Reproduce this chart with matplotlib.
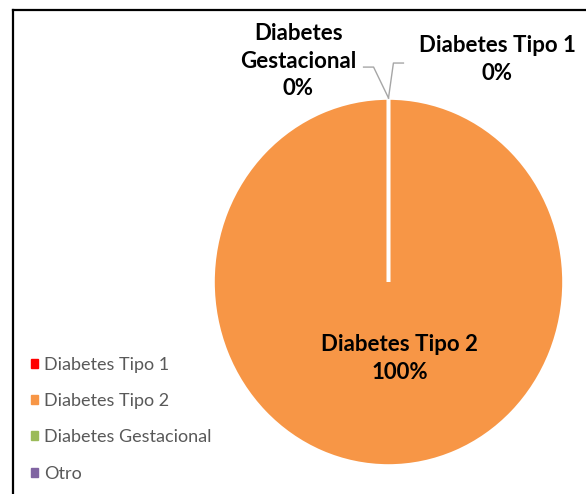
import matplotlib
matplotlib.use("Agg")
import matplotlib.pyplot as plt
from matplotlib.lines import Line2D
import numpy as np

# datos
categorias = ["Diabetes Tipo 1", "Diabetes Tipo 2", "Diabetes Gestacional", "Otro"]
valores = [0, 100, 0, 0]
colores = ["#FF0000", "#F79646", "#9BBB59", "#8064A2"]

plt.rcParams['font.family'] = ['Lato', 'DejaVu Sans']

W, H = 586, 494
fig = plt.figure(figsize=(W / 100, H / 100), dpi=100)

# pie area (slightly taller than wide, like the original)
ax = fig.add_axes([213 / W, (H - 466) / H, 351 / W, 368 / H])
wedges, _ = ax.pie(valores, colors=colores, startangle=90, counterclock=False,
                   wedgeprops=dict(edgecolor="white", linewidth=2.6))
ax.set_aspect('auto')
ax.set_xlim(-1, 1)
ax.set_ylim(-1, 1)
ax.axis('off')

total = sum(valores)
pct = [f"{round(v / total * 100)}%" for v in valores]

def borde(w):
    # point on the rim at the middle of the wedge
    ang = np.deg2rad((w.theta1 + w.theta2) / 2)
    return np.cos(ang), np.sin(ang)

lbl = dict(ha="center", va="center", fontsize=16, fontweight="bold",
           color="black", linespacing=1.38)
gris = "#A6A6A6"

# Diabetes Tipo 1 (0%)
x0, y0 = borde(wedges[0])
ax.plot([x0, x0 + 0.028, x0 + 0.085], [y0, y0 + 0.19, y0 + 0.19],
        color=gris, lw=1, clip_on=False)
ax.text(0.62, 1.21, f"{categorias[0]}\n{pct[0]}", clip_on=False, **lbl)

# Diabetes Gestacional (0%)
x2, y2 = borde(wedges[2])
ax.plot([x2, x2 - 0.085, x2 - 0.142], [y2, y2 + 0.168, y2 + 0.168],
        color=gris, lw=1, clip_on=False)
ax.text(-0.513, 1.20, "Diabetes\nGestacional\n" + pct[2], clip_on=False, **lbl)

# Diabetes Tipo 2 (100%)
ax.text(0.063, -0.415, f"{categorias[1]}\n{pct[1]}", **lbl)

# leyenda
handles = [plt.Rectangle((0, 0), 1, 1, color=c) for c in colores]
leg = fig.legend(handles, categorias, loc="lower left",
                 bbox_to_anchor=(24 / W, 5 / H), frameon=False,
                 fontsize=13, handlelength=0.4, handleheight=0.4,
                 handletextpad=0.3, labelspacing=1.13, borderaxespad=0)
for t in leg.get_texts():
    t.set_color("#595959")

# marco (only top and left visible)
fig.add_artist(Line2D([12.5 / W, 1], [1 - 10 / H, 1 - 10 / H], color="black", lw=1.6))
fig.add_artist(Line2D([12.5 / W, 12.5 / W], [0, 1 - 10 / H], color="black", lw=1.6))

fig.savefig("out.png", dpi=100, facecolor="white")
